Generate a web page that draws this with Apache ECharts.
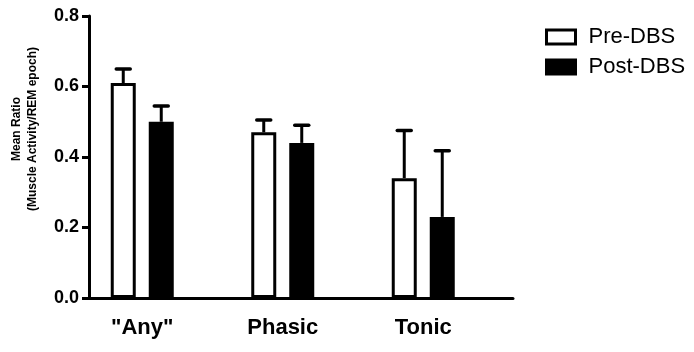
<!DOCTYPE html>
<html>
<head>
<meta charset="utf-8">
<script src="https://cdn.jsdelivr.net/npm/echarts@6/dist/echarts.min.js"></script>
<style>html,body{margin:0;padding:0;background:#fff}#c{width:694px;height:352px}</style>
</head>
<body>
<div id="c"></div>
<script>
const categories = ['"Any"', 'Phasic', 'Tonic'];
const seriesNames = ['Pre-DBS', 'Post-DBS'];
const preMean = [0.61, 0.47, 0.34];
const preUpper = [0.65, 0.505, 0.475];
const postMean = [0.50, 0.44, 0.23];
const postUpper = [0.545, 0.49, 0.418];
const yTicks = [0, 0.2, 0.4, 0.6, 0.8];

const BAR_W = 25, BORDER = 3, GAP = 13;
const OFF = (BAR_W + GAP) / 2;
const FONT = 'Liberation Sans, Arial, sans-serif';

function errData(mean, upper) {
  return categories.map((c, i) => [i, mean[i], upper[i]]);
}
function errSeries(name, mean, upper, sign) {
  return {
    type: 'custom', name: name + ' err', xAxisIndex: 0, yAxisIndex: 0,
    data: errData(mean, upper), z: 1, silent: true,
    renderItem: function (params, api) {
      const idx = api.value(0);
      const base = api.coord([idx, api.value(1)]);
      const top = api.coord([idx, api.value(2)]);
      const x = base[0] + sign * OFF;
      return {
        type: 'group', children: [
          { type: 'line', shape: { x1: x, y1: base[1], x2: x, y2: top[1] }, style: { stroke: '#000', lineWidth: 3 } },
          { type: 'line', shape: { x1: x - 7, y1: top[1], x2: x + 7, y2: top[1] }, style: { stroke: '#000', lineWidth: 3.5, lineCap: 'round' } }
        ]
      };
    }
  };
}

const chart = echarts.init(document.getElementById('c'));
chart.setOption({
  animation: false,
  textStyle: { fontFamily: FONT },
  grid: [
    { left: 72, right: 200.5, top: 16, bottom: 54 },
    { left: 89, right: 181, top: 16, bottom: 54 }
  ],
  legend: {
    orient: 'vertical', left: 540, top: 21,
    itemWidth: 29, itemHeight: 14, itemGap: 8,
    icon: 'rect',
    itemStyle: { borderWidth: 3 },
    textStyle: { fontSize: 22, color: '#000', fontFamily: FONT, padding: [0, 0, 0, 8] },
    data: seriesNames
  },
  xAxis: [
    { type: 'category', gridIndex: 0, data: categories,
      axisLine: { show: false }, axisTick: { show: false },
      axisLabel: { fontSize: 22, fontWeight: 'bold', color: '#000', margin: 19, fontFamily: FONT } },
    { type: 'value', gridIndex: 1, min: 0, max: 1,
      axisLine: { show: true, onZero: false, lineStyle: { color: '#000', width: 3 } },
      axisTick: { show: false }, axisLabel: { show: false }, splitLine: { show: false } }
  ],
  yAxis: [
    { type: 'value', gridIndex: 0, min: 0, max: 0.8, interval: 0.2, show: false, splitLine: { show: false } },
    { type: 'value', gridIndex: 1, min: 0, max: 0.8, interval: 0.2,
      axisLine: { show: true, lineStyle: { color: '#000', width: 3 } },
      axisTick: { show: true, length: 7, lineStyle: { color: '#000', width: 3 } },
      axisLabel: { fontSize: 18, fontWeight: 'bold', color: '#000', margin: 10, fontFamily: FONT,
        formatter: v => v.toFixed(1) },
      splitLine: { show: false } }
  ],
  graphic: [
    { type: 'text', x: 25, y: 129, rotation: Math.PI / 2,
      style: { text: 'Mean Ratio\n(Muscle Activity/REM epoch)', align: 'center', verticalAlign: 'middle',
        font: 'bold 12px ' + FONT, fill: '#000', lineHeight: 16 } }
  ],
  series: [
    { type: 'bar', name: seriesNames[0], xAxisIndex: 0, yAxisIndex: 0, data: preMean,
      barWidth: BAR_W, barGap: (GAP / BAR_W * 100) + '%', z: 2,
      itemStyle: { color: '#fff', borderColor: '#000', borderWidth: BORDER } },
    { type: 'bar', name: seriesNames[1], xAxisIndex: 0, yAxisIndex: 0, data: postMean,
      barWidth: BAR_W, z: 2,
      itemStyle: { color: '#000', borderColor: '#000', borderWidth: BORDER } },
    errSeries(seriesNames[0], preMean, preUpper, -1),
    errSeries(seriesNames[1], postMean, postUpper, 1)
  ]
});
</script>
</body>
</html>
